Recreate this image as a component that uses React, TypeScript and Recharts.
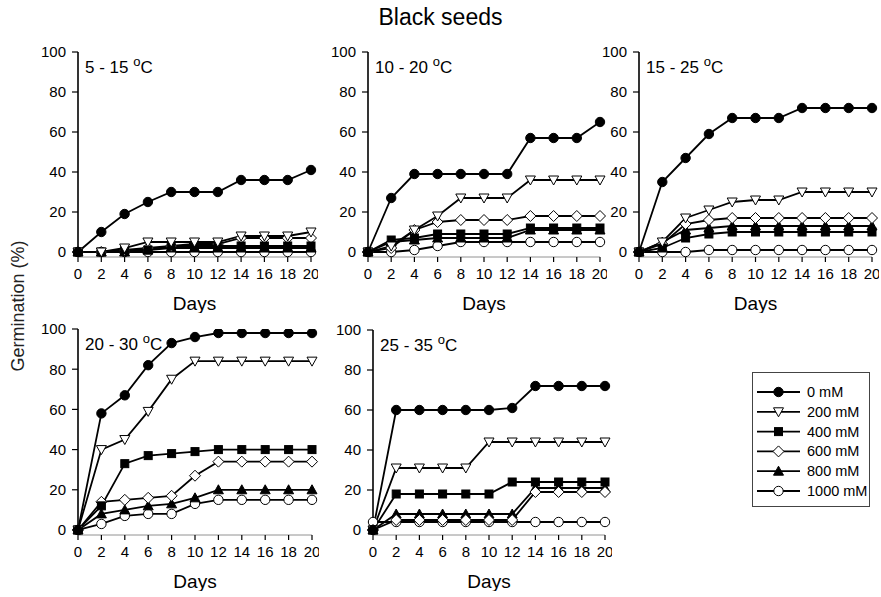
import { Label, Line, LineChart, XAxis, YAxis } from 'recharts'

const FONT = '"Liberation Sans", Arial, Helvetica, sans-serif'

const DAYS = [0, 2, 4, 6, 8, 10, 12, 14, 16, 18, 20]
const Y_TICKS = [0, 20, 40, 60, 80, 100]

const SERIES = [
  { key: 's0', label: '0 mM', shape: 'circle', filled: true },
  { key: 's200', label: '200 mM', shape: 'triDown', filled: false },
  { key: 's400', label: '400 mM', shape: 'square', filled: true },
  { key: 's600', label: '600 mM', shape: 'diamond', filled: false },
  { key: 's800', label: '800 mM', shape: 'triUp', filled: true },
  { key: 's1000', label: '1000 mM', shape: 'circle', filled: false },
]

// rows: 0, 200, 400, 600, 800, 1000 mM
const T5_15 = [
  [0, 10, 19, 25, 30, 30, 30, 36, 36, 36, 41],
  [0, 0, 2, 5, 5, 5, 5, 8, 8, 8, 10],
  [0, 0, 1, 1, 3, 3, 3, 3, 3, 3, 3],
  [0, 0, 1, 2, 3, 4, 4, 7, 7, 7, 7],
  [0, 0, 0, 1, 2, 2, 2, 2, 2, 2, 2],
  [0, 0, 0, 0, 0, 0, 0, 0, 0, 0, 0],
]

const T10_20 = [
  [0, 27, 39, 39, 39, 39, 39, 57, 57, 57, 65],
  [0, 3, 11, 18, 27, 27, 27, 36, 36, 36, 36],
  [0, 6, 7, 9, 9, 9, 9, 12, 12, 12, 12],
  [0, 2, 11, 15, 16, 16, 16, 18, 18, 18, 18],
  [0, 5, 6, 7, 7, 7, 7, 11, 11, 11, 11],
  [0, 0, 1, 3, 5, 5, 5, 5, 5, 5, 5],
]

const T15_25 = [
  [0, 35, 47, 59, 67, 67, 67, 72, 72, 72, 72],
  [0, 5, 17, 21, 25, 26, 26, 30, 30, 30, 30],
  [0, 2, 7, 9, 10, 10, 10, 10, 10, 10, 10],
  [0, 4, 14, 16, 17, 17, 17, 17, 17, 17, 17],
  [0, 5, 11, 12, 13, 13, 13, 13, 13, 13, 13],
  [0, 0, 0, 1, 1, 1, 1, 1, 1, 1, 1],
]

const T20_30 = [
  [0, 58, 67, 82, 93, 96, 98, 98, 98, 98, 98],
  [0, 40, 45, 59, 75, 84, 84, 84, 84, 84, 84],
  [0, 12, 33, 37, 38, 39, 40, 40, 40, 40, 40],
  [0, 14, 15, 16, 17, 27, 34, 34, 34, 34, 34],
  [0, 8, 10, 12, 13, 16, 20, 20, 20, 20, 20],
  [0, 3, 7, 8, 8, 13, 15, 15, 15, 15, 15],
]

const T25_35 = [
  [0, 60, 60, 60, 60, 60, 61, 72, 72, 72, 72],
  [0, 31, 31, 31, 31, 44, 44, 44, 44, 44, 44],
  [0, 18, 18, 18, 18, 18, 24, 24, 24, 24, 24],
  [0, 5, 5, 5, 5, 5, 5, 19, 19, 19, 19],
  [0, 8, 8, 8, 8, 8, 8, 21, 21, 21, 21],
  [4, 4, 4, 4, 4, 4, 4, 4, 4, 4, 4],
]

const PANELS = [
  { name: '5 - 15 ', values: T5_15, x: 78, y: 52, w: 233, h: 205 },
  { name: '10 - 20 ', values: T10_20, x: 368, y: 52, w: 232, h: 205 },
  { name: '15 - 25 ', values: T15_25, x: 639, y: 52, w: 233, h: 205 },
  { name: '20 - 30 ', values: T20_30, x: 78, y: 329, w: 234, h: 206 },
  { name: '25 - 35 ', values: T25_35, x: 373, y: 330, w: 232, h: 205 },
]

function Marker({ cx, cy, shape, filled }: { cx: number; cy: number; shape: string; filled: boolean }) {
  const fill = filled ? '#000' : '#fff'
  const common = { fill, stroke: '#000', strokeWidth: 1 }
  if (cx == null || cy == null) return null
  switch (shape) {
    case 'square':
      return <rect x={cx - 4} y={cy - 4} width={8} height={8} {...common} />
    case 'diamond':
      return <polygon points={`${cx},${cy - 5.5} ${cx + 5.5},${cy} ${cx},${cy + 5.5} ${cx - 5.5},${cy}`} {...common} />
    case 'triDown':
      return <polygon points={`${cx - 5},${cy - 4} ${cx + 5},${cy - 4} ${cx},${cy + 5}`} {...common} />
    case 'triUp':
      return <polygon points={`${cx - 5},${cy + 4} ${cx + 5},${cy + 4} ${cx},${cy - 5}`} {...common} />
    default:
      return <circle cx={cx} cy={cy} r={4.7} {...common} />
  }
}

const LEFT_W = 48
const TOP_M = 12
const AXIS_H = 56

function Panel({ panel }: { panel: (typeof PANELS)[number] }) {
  const data = DAYS.map((d, i) => {
    const row: Record<string, number> = { day: d }
    SERIES.forEach((s, j) => { row[s.key] = panel.values[j][i] })
    return row
  })
  const width = LEFT_W + panel.w + 7
  const height = TOP_M + panel.h + AXIS_H
  const order = [...SERIES].reverse()

  return (
    <div style={{ position: 'absolute', left: panel.x - LEFT_W, top: panel.y - TOP_M }}>
      <LineChart width={width} height={height} data={data} margin={{ top: TOP_M, right: 7, bottom: 0, left: 0 }}>
        <XAxis
          dataKey="day"
          type="number"
          domain={[0, 20]}
          ticks={DAYS}
          height={AXIS_H}
          tickSize={5}
          tickMargin={6}
          interval={0}
          tick={{ fill: '#000', fontSize: 15, fontFamily: FONT }}
          axisLine={{ stroke: '#777', strokeWidth: 0.8 }}
          tickLine={{ stroke: '#000', strokeWidth: 1.2 }}
        >
          <Label value="Days" position="insideBottom" offset={3} fill="#000" fontSize={19} fontFamily={FONT} />
        </XAxis>
        <YAxis
          type="number"
          domain={[-2.5, 100]}
          ticks={Y_TICKS}
          width={LEFT_W}
          tickSize={6}
          tickMargin={6}
          interval={0}
          allowDataOverflow
          tick={{ fill: '#000', fontSize: 15, fontFamily: FONT }}
          axisLine={{ stroke: '#000', strokeWidth: 1.6 }}
          tickLine={{ stroke: '#000', strokeWidth: 1.2 }}
        />
        {order.map(s => (
          <Line
            key={s.key}
            dataKey={s.key}
            type="linear"
            stroke="#000"
            strokeWidth={1.8}
            isAnimationActive={false}
            dot={(p: any) => (
              <Marker key={`${s.key}-${p.index}`} cx={p.cx} cy={p.cy} shape={s.shape} filled={s.filled} />
            )}
            activeDot={false}
          />
        ))}
      </LineChart>
      <div
        style={{
          position: 'absolute',
          left: LEFT_W + 7,
          top: TOP_M + 7,
          fontFamily: FONT,
          fontSize: 17,
          lineHeight: '18px',
          whiteSpace: 'nowrap',
        }}
      >
        {panel.name}
        <sup style={{ fontSize: 13, verticalAlign: '7px', lineHeight: 0 }}>o</sup>C
      </div>
    </div>
  )
}

function LegendBox() {
  const rowH = 19.8
  return (
    <div
      style={{
        position: 'absolute',
        left: 752,
        top: 372,
        width: 118,
        height: 135,
        border: '1px solid #444',
        background: '#fff',
        boxSizing: 'border-box',
      }}
    >
      <svg width={118} height={135} style={{ position: 'absolute', left: -1, top: -1 }}>
        {SERIES.map((s, i) => {
          const y = 20 + i * rowH
          return (
            <g key={s.key}>
              <line x1={5} x2={48} y1={y} y2={y} stroke="#000" strokeWidth={1.8} />
              <Marker cx={26.5} cy={y} shape={s.shape} filled={s.filled} />
              <text x={55} y={y + 5} fontSize={14.5} fontFamily={FONT} fill="#000">
                {s.label}
              </text>
            </g>
          )
        })}
      </svg>
    </div>
  )
}

export default function App() {
  return (
    <div
      style={{
        position: 'absolute',
        left: 0,
        top: 0,
        width: 881,
        height: 597,
        overflow: 'hidden',
        background: '#fff',
        fontFamily: FONT,
      }}
    >
      <div style={{ position: 'absolute', left: 0, width: 881, top: 4, textAlign: 'center', fontSize: 23 }}>
        Black seeds
      </div>
      <div
        style={{
          position: 'absolute',
          left: 18,
          top: 306,
          transform: 'translate(-50%, -50%) rotate(-90deg)',
          fontSize: 18,
          color: '#222',
          whiteSpace: 'nowrap',
        }}
      >
        Germination (%)
      </div>
      {PANELS.map(p => (
        <Panel key={p.name} panel={p} />
      ))}
      <LegendBox />
    </div>
  )
}
